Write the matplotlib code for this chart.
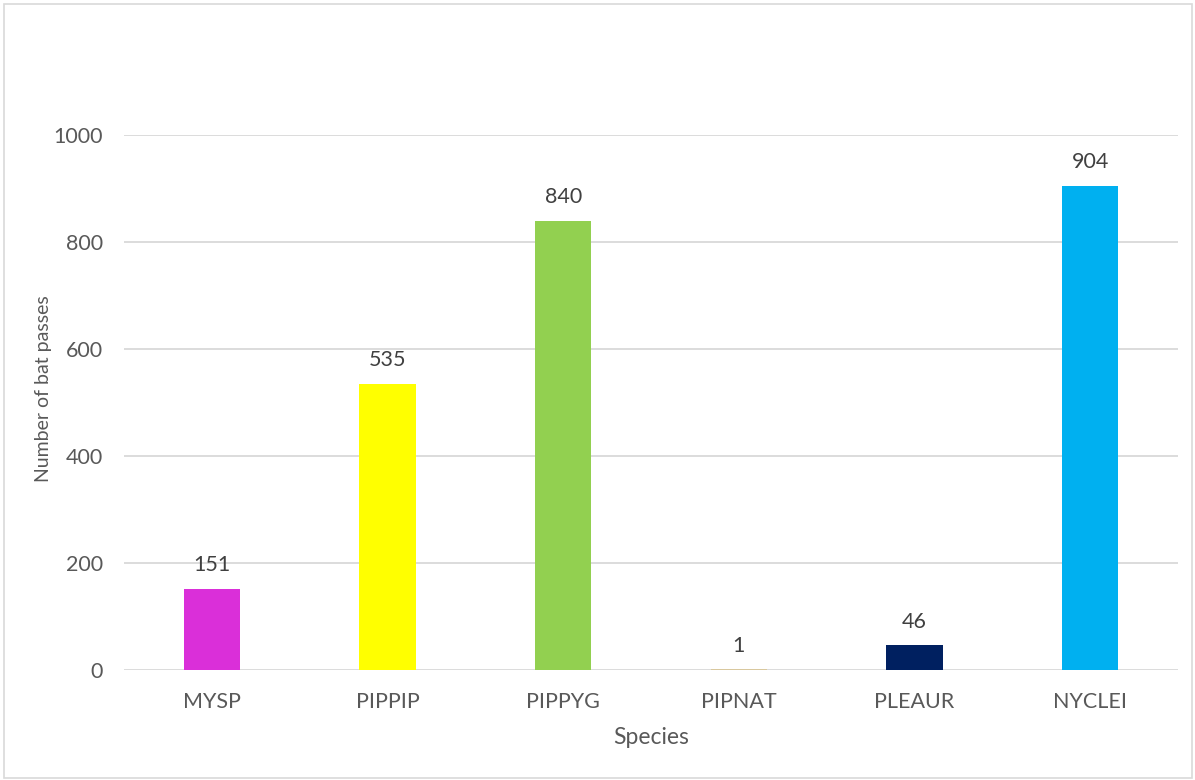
import matplotlib
matplotlib.use("Agg")
from matplotlib import pyplot as plt
from matplotlib.patches import Rectangle

species = ["MYSP", "PIPPIP", "PIPPYG", "PIPNAT", "PLEAUR", "NYCLEI"]
passes = [151, 535, 840, 1, 46, 904]
colors = ["#DA2FD9", "#FFFF00", "#92D050", "#D9C89E", "#002060", "#00B0F0"]
y_ticks = [0, 200, 400, 600, 800, 1000]

text_color = "#595959"
plt.rcParams["font.family"] = ["Lato", "DejaVu Sans"]

fig = plt.figure(figsize=(11.95, 7.8), dpi=100)
ax = fig.add_axes([124 / 1195, 1 - 670 / 780, (1178 - 124) / 1195, (670 - 135) / 780])

x = list(range(len(species)))
bars = ax.bar(x, passes, width=0.32, color=colors, zorder=3)

for xi, v in zip(x, passes):
    ax.annotate(str(v), (xi, v), xytext=(0, 10), textcoords="offset points",
                ha="center", va="bottom", fontsize=15.5, color="#404040")

ax.set_xlim(-0.5, len(species) - 0.5)
ax.set_ylim(0, 1000)
ax.set_yticks(y_ticks)
ax.set_xticks(x)
ax.set_xticklabels(species)
ax.tick_params(axis="both", length=0, labelsize=15.5, labelcolor=text_color)
ax.tick_params(axis="y", pad=15)
ax.tick_params(axis="x", pad=16)
ax.grid(axis="y", color="#D9D9D9", linewidth=1.3, zorder=0)
for s in ax.spines.values():
    s.set_visible(False)

ax.set_xlabel("Species", fontsize=16.5, color=text_color, labelpad=11)
ax.set_ylabel("Number of bat passes", fontsize=14, color=text_color)
ax.yaxis.set_label_coords(-0.068, 0.525)

fig.patches.append(Rectangle((4 / 1195, 2 / 780), 1188 / 1195, 774 / 780,
                             transform=fig.transFigure, fill=False,
                             edgecolor="#D9D9D9", linewidth=1.2))

fig.savefig("out.png", dpi=100)
